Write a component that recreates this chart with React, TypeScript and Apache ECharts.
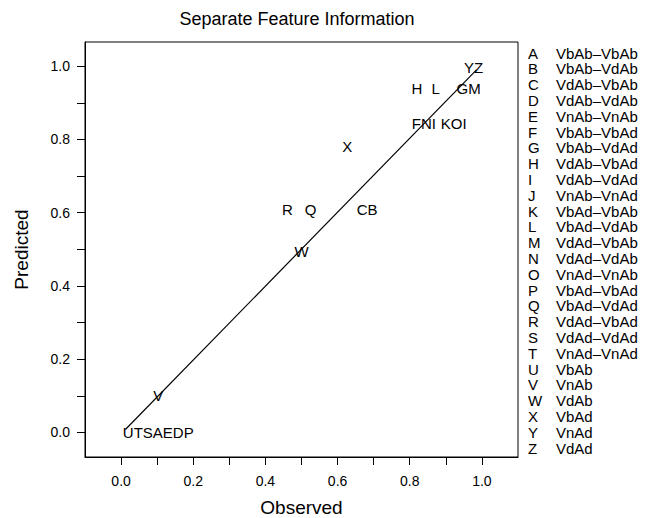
import React, { useEffect, useRef } from "react";
import * as echarts from "echarts";

const FONT = "'Liberation Sans', Arial, Helvetica, sans-serif";

const titleText = "Separate Feature Information";
const xAxisName = "Observed";
const yAxisName = "Predicted";

const pointLabels = ["YZ", "H", "L", "GM", "FNI", "KOI", "X", "R", "Q", "CB", "W", "V", "UTSAEDP"];
const observed = [0.977, 0.82, 0.872, 0.963, 0.839, 0.922, 0.627, 0.461, 0.525, 0.682, 0.5, 0.103, 0.103];
const predicted = [0.996, 0.938, 0.938, 0.938, 0.843, 0.843, 0.78, 0.608, 0.608, 0.608, 0.493, 0.101, 0.0];

const fitLineX = [0.012, 0.985];
const fitLineY = [0.008, 0.99];

const tickValues = [0, 0.1, 0.2, 0.3, 0.4, 0.5, 0.6, 0.7, 0.8, 0.9, 1.0];
const labelValues = [0, 0.2, 0.4, 0.6, 0.8, 1.0];

const legendKeys = ["A","B","C","D","E","F","G","H","I","J","K","L","M","N","O","P","Q","R","S","T","U","V","W","X","Y","Z"];
const legendDescs = [
  "VbAb–VbAb","VbAb–VdAb","VdAb–VbAb","VdAb–VdAb","VnAb–VnAb",
  "VbAb–VbAd","VbAb–VdAd","VdAb–VbAd","VdAb–VdAd","VnAb–VnAd",
  "VbAd–VbAb","VbAd–VdAb","VdAd–VbAb","VdAd–VdAb","VnAd–VnAb",
  "VbAd–VbAd","VbAd–VdAd","VdAd–VbAd","VdAd–VdAd","VnAd–VnAd",
  "VbAb","VnAb","VdAb","VbAd","VnAd","VdAd",
];

export default function App() {
  const ref = useRef<HTMLDivElement>(null);
  useEffect(() => {
    if (!ref.current) return;
    const chart = echarts.init(ref.current, null, { renderer: "svg" });
    const legendGraphics: any[] = [];
    legendKeys.forEach((k, i) => {
      const y = 53 + i * 15.8;
      legendGraphics.push({
        type: "text", x: 528, y,
        style: { text: k, font: `15px ${FONT}`, fill: "#000", verticalAlign: "middle", align: "left" },
      });
      legendGraphics.push({
        type: "text", x: 556, y,
        style: { text: legendDescs[i], font: `15px ${FONT}`, fill: "#000", verticalAlign: "middle", align: "left" },
      });
    });
    const axisCommon = {
      type: "value",
      splitLine: { show: false },
      axisLine: { show: true, onZero: false, lineStyle: { color: "#000", width: 1 } },
      axisTick: { show: true, customValues: tickValues, length: 8, inside: false, lineStyle: { color: "#000", width: 1 } },
      nameTextStyle: { color: "#000", fontFamily: FONT, fontSize: 19 },
    };
    chart.setOption({
      animation: false,
      backgroundColor: "#fff",
      grid: {
        left: 85, right: 129, top: 42, bottom: 61,
        outerBoundsMode: "none", containLabel: false,
        show: true, borderColor: "#000", borderWidth: 1, backgroundColor: "transparent",
      },
      xAxis: {
        ...axisCommon,
        min: -0.1, max: 1.1,
        name: xAxisName, nameLocation: "middle", nameGap: 41,
        axisLabel: { customValues: labelValues, formatter: (v: number) => v.toFixed(1), color: "#000", fontFamily: FONT, fontSize: 14, margin: 17 },
      },
      yAxis: {
        ...axisCommon,
        min: -0.067, max: 1.066,
        name: yAxisName, nameLocation: "middle", nameGap: 54,
        axisLabel: { customValues: labelValues, formatter: (v: number) => v.toFixed(1), color: "#000", fontFamily: FONT, fontSize: 14, margin: 15 },
      },
      graphic: [
        {
          type: "text", x: 297, y: 19,
          style: { text: titleText, font: `18px ${FONT}`, fill: "#000", align: "center", verticalAlign: "middle" },
        },
        ...legendGraphics,
      ],
      series: [
        {
          type: "line",
          data: fitLineX.map((x, i) => [x, fitLineY[i]]),
          symbol: "none",
          lineStyle: { color: "#000", width: 1.2 },
          silent: true,
        },
        {
          type: "scatter",
          data: pointLabels.map((n, i) => ({ name: n, value: [observed[i], predicted[i]] })),
          symbolSize: 1,
          itemStyle: { color: "rgba(0,0,0,0)" },
          label: {
            show: true,
            position: "inside",
            formatter: (p: any) => p.name,
            color: "#000",
            opacity: 1,
            textBorderWidth: 0,
            textBorderColor: "transparent",
            fontFamily: FONT,
            fontSize: 15,
          },
        },
      ],
    });
    return () => chart.dispose();
  }, []);
  return <div ref={ref} style={{ width: 647, height: 518, position: "absolute", left: 0, top: 0 }} />;
}
